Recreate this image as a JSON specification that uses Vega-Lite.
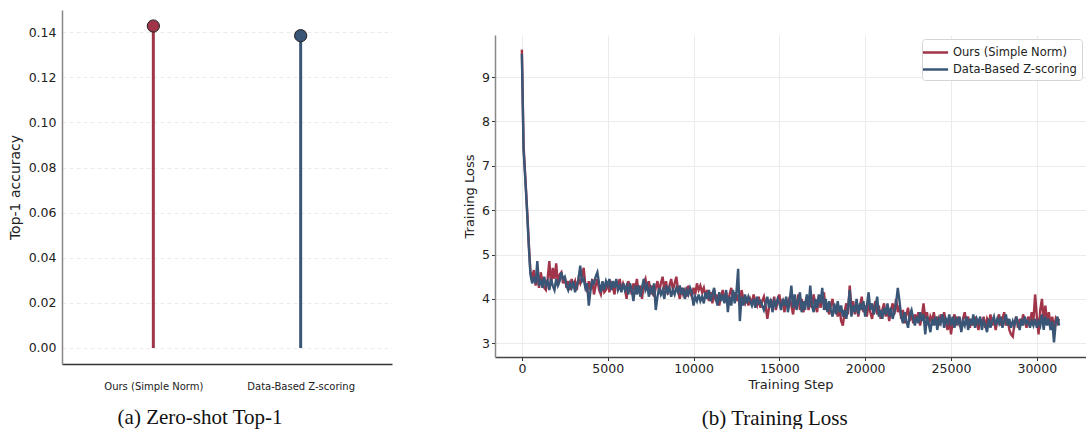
{
"$schema": "https://vega.github.io/schema/vega-lite/v6.json",
"padding": {"left": 8, "top": 10, "right": 0, "bottom": 0},
"background": "white",
"config": {"font": "DejaVu Sans", "view": {"stroke": null}, "axis": {"labelFont": "DejaVu Sans", "titleFont": "DejaVu Sans", "titleFontWeight": "normal", "labelColor": "#222", "titleColor": "#222"}},
"spacing": 71,
"resolve": {"scale": {"color": "independent"}, "legend": {"color": "independent"}},
"hconcat": [
{
"width": 330, "height": 354,
"data": {"values": [{"method": "Ours (Simple Norm)", "acc": 0.1428}, {"method": "Data-Based Z-scoring", "acc": 0.1385}]},
"title": {"text": "(a) Zero-shot Top-1", "orient": "bottom", "anchor": "middle", "frame": "bounds", "font": "Liberation Serif", "fontSize": 21, "fontWeight": "normal", "color": "#111", "offset": 16},
"encoding": {
"x": {"field": "method", "type": "nominal", "sort": null, "scale": {"type": "point", "padding": 0.62}, "axis": {"title": null, "labelAngle": 0, "labelFontSize": 10, "ticks": false, "tickSize": 0, "labelPadding": 17, "domainColor": "#333", "domainWidth": 1.5, "grid": false}},
"y": {"field": "acc", "type": "quantitative", "scale": {"domain": [-0.00714, 0.1499], "nice": false, "zero": false}, "axis": {"title": "Top-1 accuracy", "titleFontSize": 14, "titlePadding": 6, "values": [0, 0.02, 0.04, 0.06, 0.08, 0.1, 0.12, 0.14], "format": ".2f", "labelFontSize": 12.5, "ticks": false, "tickSize": 0, "labelPadding": 6, "domainColor": "#888", "domainWidth": 1.5, "gridColor": "#e6e6e6", "gridDash": [4, 3], "gridWidth": 0.8}},
"color": {"field": "method", "type": "nominal", "sort": null, "scale": {"domain": ["Ours (Simple Norm)", "Data-Based Z-scoring"], "range": ["#A0354A", "#3A5677"]}, "legend": null}
},
"layer": [
{"mark": {"type": "rule", "strokeWidth": 3}, "encoding": {"y2": {"datum": 0}}},
{"mark": {"type": "point", "filled": true, "size": 150, "stroke": "#222", "strokeWidth": 1, "opacity": 1}}
]
},
{
"spacing": 10,
"resolve": {"scale": {"color": "independent"}, "legend": {"color": "independent"}},
"vconcat": [
{"width": 591, "height": 15, "data": {"values": []}, "mark": {"type": "text"}, "encoding": {}},
{
"width": 591, "height": 322,
"title": {"text": "(b) Training Loss", "orient": "bottom", "anchor": "middle", "frame": "bounds", "font": "Liberation Serif", "fontSize": 21, "fontWeight": "normal", "color": "#111", "offset": 17},
"data": {"values": [
{"step":0,"a":9.62,"b":9.52},{"step":100,"a":7.45,"b":7.35},{"step":200,"a":6.75,"b":6.7},{"step":300,"a":6.05,"b":6.0},{"step":400,"a":5.3,"b":5.2},
{"step":500,"a":4.6,"b":4.55},{"step":600,"a":4.5,"b":4.35},{"step":700,"a":4.65,"b":4.5},{"step":800,"a":4.3,"b":4.35},{"step":900,"a":4.55,"b":4.85},
{"step":1000,"a":4.25,"b":4.3},{"step":1100,"a":4.6,"b":4.45},{"step":1200,"a":4.4,"b":4.25},{"step":1300,"a":4.25,"b":4.5},{"step":1400,"a":4.2,"b":4.3},
{"step":1500,"a":4.45,"b":4.4},{"step":1600,"a":4.85,"b":4.2},{"step":1700,"a":4.3,"b":4.45},{"step":1800,"a":4.7,"b":4.3},{"step":1900,"a":4.45,"b":4.2},
{"step":2000,"a":4.8,"b":4.45},{"step":2100,"a":4.3,"b":4.3},{"step":2200,"a":4.55,"b":4.4},{"step":2300,"a":4.6,"b":4.6},{"step":2400,"a":4.35,"b":4.45},
{"step":2500,"a":4.5,"b":4.5},{"step":2600,"a":4.25,"b":4.3},{"step":2700,"a":4.4,"b":4.2},{"step":2800,"a":4.2,"b":4.35},{"step":2900,"a":4.45,"b":4.25},
{"step":3000,"a":4.3,"b":4.4},{"step":3100,"a":4.4,"b":4.15},{"step":3200,"a":4.2,"b":4.3},{"step":3300,"a":4.45,"b":4.45},{"step":3400,"a":4.35,"b":4.75},
{"step":3500,"a":4.5,"b":4.4},{"step":3600,"a":4.7,"b":4.45},{"step":3700,"a":4.3,"b":4.25},{"step":3800,"a":4.15,"b":4.35},{"step":3900,"a":4.4,"b":3.85},
{"step":4000,"a":4.2,"b":4.2},{"step":4100,"a":4.45,"b":4.4},{"step":4200,"a":4.1,"b":4.35},{"step":4300,"a":4.3,"b":4.5},{"step":4400,"a":4.45,"b":4.6},
{"step":4500,"a":4.2,"b":4.35},{"step":4600,"a":4.1,"b":4.15},{"step":4700,"a":4.35,"b":4.4},{"step":4800,"a":4.15,"b":4.2},{"step":4900,"a":4.2,"b":4.4},
{"step":5000,"a":4.4,"b":4.3},{"step":5100,"a":4.15,"b":4.45},{"step":5200,"a":4.35,"b":4.2},{"step":5300,"a":4.25,"b":4.4},{"step":5400,"a":4.1,"b":4.25},
{"step":5500,"a":4.4,"b":4.45},{"step":5600,"a":4.3,"b":4.2},{"step":5700,"a":4.45,"b":4.3},{"step":5800,"a":4.2,"b":4.15},{"step":5900,"a":4.35,"b":4.35},
{"step":6000,"a":4.25,"b":4.2},{"step":6100,"a":4.0,"b":4.3},{"step":6200,"a":4.4,"b":4.1},{"step":6300,"a":4.3,"b":4.35},{"step":6400,"a":4.1,"b":4.2},
{"step":6500,"a":4.35,"b":3.95},{"step":6600,"a":4.2,"b":4.3},{"step":6700,"a":4.45,"b":4.1},{"step":6800,"a":4.15,"b":4.3},{"step":6900,"a":4.3,"b":4.05},
{"step":7000,"a":4.0,"b":4.25},{"step":7100,"a":4.35,"b":4.45},{"step":7200,"a":4.45,"b":4.2},{"step":7300,"a":4.2,"b":4.3},{"step":7400,"a":4.4,"b":4.05},
{"step":7500,"a":4.1,"b":4.25},{"step":7600,"a":4.3,"b":4.15},{"step":7700,"a":4.05,"b":4.35},{"step":7800,"a":4.25,"b":3.75},{"step":7900,"a":4.4,"b":4.05},
{"step":8000,"a":4.15,"b":4.25},{"step":8100,"a":4.35,"b":4.1},{"step":8200,"a":4.5,"b":4.2},{"step":8300,"a":4.2,"b":4.0},{"step":8400,"a":4.4,"b":4.3},
{"step":8500,"a":4.1,"b":4.15},{"step":8600,"a":4.3,"b":4.25},{"step":8700,"a":4.45,"b":4.05},{"step":8800,"a":4.2,"b":4.2},{"step":8900,"a":4.35,"b":4.1},
{"step":9000,"a":4.5,"b":4.25},{"step":9100,"a":4.2,"b":4.15},{"step":9200,"a":4.0,"b":4.3},{"step":9300,"a":4.25,"b":4.1},{"step":9400,"a":4.1,"b":4.25},
{"step":9500,"a":4.2,"b":4.0},{"step":9600,"a":4.05,"b":4.2},{"step":9700,"a":4.3,"b":4.1},{"step":9800,"a":4.15,"b":4.25},{"step":9900,"a":4.05,"b":4.15},
{"step":10000,"a":4.25,"b":3.85},{"step":10100,"a":4.1,"b":4.05},{"step":10200,"a":4.35,"b":3.95},{"step":10300,"a":4.2,"b":4.1},{"step":10400,"a":4.3,"b":3.95},
{"step":10500,"a":4.15,"b":4.05},{"step":10600,"a":4.25,"b":3.9},{"step":10700,"a":4.05,"b":4.15},{"step":10800,"a":4.2,"b":4.0},{"step":10900,"a":3.95,"b":4.2},
{"step":11000,"a":4.15,"b":3.95},{"step":11100,"a":3.9,"b":4.1},{"step":11200,"a":4.2,"b":4.25},{"step":11300,"a":3.95,"b":4.0},{"step":11400,"a":4.1,"b":3.85},
{"step":11500,"a":3.85,"b":4.15},{"step":11600,"a":4.05,"b":3.95},{"step":11700,"a":4.2,"b":4.1},{"step":11800,"a":3.95,"b":3.9},{"step":11900,"a":4.15,"b":4.2},
{"step":12000,"a":3.9,"b":3.7},{"step":12100,"a":4.1,"b":4.05},{"step":12200,"a":4.25,"b":3.85},{"step":12300,"a":4.0,"b":4.2},{"step":12400,"a":4.15,"b":3.9},
{"step":12500,"a":3.95,"b":4.15},{"step":12600,"a":4.1,"b":4.68},{"step":12700,"a":3.85,"b":3.5},{"step":12800,"a":4.2,"b":4.05},{"step":12900,"a":4.0,"b":3.85},
{"step":13000,"a":3.9,"b":4.1},{"step":13100,"a":4.05,"b":3.9},{"step":13200,"a":3.85,"b":4.05},{"step":13300,"a":4.0,"b":3.95},{"step":13400,"a":3.9,"b":3.85},
{"step":13500,"a":4.1,"b":4.0},{"step":13600,"a":3.95,"b":3.8},{"step":13700,"a":3.85,"b":4.05},{"step":13800,"a":4.05,"b":3.9},{"step":13900,"a":3.8,"b":3.95},
{"step":14000,"a":3.95,"b":3.85},{"step":14100,"a":4.05,"b":3.75},{"step":14200,"a":3.85,"b":3.9},{"step":14300,"a":3.55,"b":4.05},{"step":14400,"a":3.8,"b":3.8},
{"step":14500,"a":3.95,"b":4.0},{"step":14600,"a":3.85,"b":3.7},{"step":14700,"a":4.05,"b":3.95},{"step":14800,"a":3.75,"b":3.85},{"step":14900,"a":3.95,"b":4.0},
{"step":15000,"a":4.1,"b":3.9},{"step":15100,"a":3.85,"b":3.75},{"step":15200,"a":3.95,"b":4.0},{"step":15300,"a":3.7,"b":3.85},{"step":15400,"a":4.0,"b":4.05},
{"step":15500,"a":3.8,"b":3.7},{"step":15600,"a":4.05,"b":3.95},{"step":15700,"a":3.85,"b":4.3},{"step":15800,"a":3.65,"b":3.8},{"step":15900,"a":3.95,"b":4.1},
{"step":16000,"a":3.8,"b":3.75},{"step":16100,"a":4.1,"b":3.95},{"step":16200,"a":3.75,"b":4.15},{"step":16300,"a":4.0,"b":3.7},{"step":16400,"a":3.7,"b":3.95},
{"step":16500,"a":3.9,"b":3.75},{"step":16600,"a":4.05,"b":4.1},{"step":16700,"a":3.75,"b":3.8},{"step":16800,"a":3.95,"b":4.3},{"step":16900,"a":3.8,"b":3.85},
{"step":17000,"a":4.1,"b":3.7},{"step":17100,"a":3.85,"b":4.0},{"step":17200,"a":3.7,"b":3.8},{"step":17300,"a":4.05,"b":4.1},{"step":17400,"a":3.8,"b":3.9},
{"step":17500,"a":3.95,"b":4.25},{"step":17600,"a":4.15,"b":3.75},{"step":17700,"a":3.75,"b":4.0},{"step":17800,"a":3.9,"b":3.7},{"step":17900,"a":3.65,"b":3.95},
{"step":18000,"a":3.85,"b":3.75},{"step":18100,"a":4.0,"b":3.6},{"step":18200,"a":3.7,"b":3.9},{"step":18300,"a":3.85,"b":3.65},{"step":18400,"a":3.6,"b":3.95},
{"step":18500,"a":3.8,"b":3.7},{"step":18600,"a":3.5,"b":3.85},{"step":18700,"a":3.4,"b":3.6},{"step":18800,"a":3.7,"b":3.75},{"step":18900,"a":3.9,"b":3.55},
{"step":19000,"a":3.65,"b":3.8},{"step":19100,"a":4.3,"b":4.2},{"step":19200,"a":3.8,"b":3.6},{"step":19300,"a":3.95,"b":3.85},{"step":19400,"a":3.65,"b":3.7},
{"step":19500,"a":3.9,"b":4.0},{"step":19600,"a":3.6,"b":3.65},{"step":19700,"a":3.85,"b":3.9},{"step":19800,"a":4.05,"b":3.75},{"step":19900,"a":3.7,"b":3.95},
{"step":20000,"a":3.85,"b":3.6},{"step":20100,"a":3.6,"b":3.85},{"step":20200,"a":3.9,"b":4.15},{"step":20300,"a":3.7,"b":3.75},{"step":20400,"a":3.55,"b":3.9},
{"step":20500,"a":3.8,"b":3.65},{"step":20600,"a":3.95,"b":3.8},{"step":20700,"a":3.65,"b":4.05},{"step":20800,"a":3.85,"b":3.6},{"step":20900,"a":3.55,"b":3.75},
{"step":21000,"a":3.75,"b":3.55},{"step":21100,"a":3.9,"b":3.8},{"step":21200,"a":3.6,"b":3.65},{"step":21300,"a":3.8,"b":3.9},{"step":21400,"a":3.5,"b":3.6},
{"step":21500,"a":3.75,"b":3.8},{"step":21600,"a":3.9,"b":3.55},{"step":21700,"a":3.65,"b":3.7},{"step":21800,"a":4.0,"b":3.9},{"step":21900,"a":3.7,"b":4.25},
{"step":22000,"a":3.85,"b":3.95},{"step":22100,"a":3.55,"b":3.6},{"step":22200,"a":3.75,"b":3.45},{"step":22300,"a":3.45,"b":3.7},{"step":22400,"a":3.65,"b":3.5},
{"step":22500,"a":3.8,"b":3.35},{"step":22600,"a":3.5,"b":3.65},{"step":22700,"a":3.7,"b":3.75},{"step":22800,"a":3.45,"b":3.55},{"step":22900,"a":3.65,"b":3.4},
{"step":23000,"a":3.5,"b":3.6},{"step":23100,"a":3.7,"b":3.45},{"step":23200,"a":3.4,"b":3.7},{"step":23300,"a":3.6,"b":3.5},{"step":23400,"a":3.9,"b":3.65},
{"step":23500,"a":3.55,"b":3.2},{"step":23600,"a":3.7,"b":3.6},{"step":23700,"a":3.4,"b":3.45},{"step":23800,"a":3.6,"b":3.25},{"step":23900,"a":3.5,"b":3.55},
{"step":24000,"a":3.7,"b":3.4},{"step":24100,"a":3.45,"b":3.6},{"step":24200,"a":3.6,"b":3.3},{"step":24300,"a":3.4,"b":3.55},{"step":24400,"a":3.65,"b":3.45},
{"step":24500,"a":3.5,"b":3.65},{"step":24600,"a":3.7,"b":3.35},{"step":24700,"a":3.45,"b":3.55},{"step":24800,"a":3.3,"b":3.45},{"step":24900,"a":3.55,"b":3.65},
{"step":25000,"a":3.2,"b":3.4},{"step":25100,"a":3.5,"b":3.6},{"step":25200,"a":3.65,"b":3.35},{"step":25300,"a":3.4,"b":3.55},{"step":25400,"a":3.6,"b":3.45},
{"step":25500,"a":3.45,"b":3.6},{"step":25600,"a":3.3,"b":3.25},{"step":25700,"a":3.55,"b":3.5},{"step":25800,"a":3.7,"b":3.4},{"step":25900,"a":3.45,"b":3.6},
{"step":26000,"a":3.6,"b":3.3},{"step":26100,"a":3.35,"b":3.55},{"step":26200,"a":3.55,"b":3.4},{"step":26300,"a":3.4,"b":3.65},{"step":26400,"a":3.6,"b":3.35},
{"step":26500,"a":3.45,"b":3.55},{"step":26600,"a":3.3,"b":3.45},{"step":26700,"a":3.55,"b":3.6},{"step":26800,"a":3.4,"b":3.3},{"step":26900,"a":3.6,"b":3.5},
{"step":27000,"a":3.35,"b":3.4},{"step":27100,"a":3.55,"b":3.25},{"step":27200,"a":3.45,"b":3.55},{"step":27300,"a":3.65,"b":3.35},{"step":27400,"a":3.4,"b":3.5},
{"step":27500,"a":3.55,"b":3.6},{"step":27600,"a":3.3,"b":3.4},{"step":27700,"a":3.5,"b":3.55},{"step":27800,"a":3.65,"b":3.45},{"step":27900,"a":3.4,"b":3.6},
{"step":28000,"a":3.55,"b":3.35},{"step":28100,"a":3.7,"b":3.5},{"step":28200,"a":3.4,"b":3.65},{"step":28300,"a":3.55,"b":3.4},{"step":28400,"a":3.3,"b":3.55},
{"step":28500,"a":3.2,"b":3.35},{"step":28600,"a":3.15,"b":3.5},{"step":28700,"a":3.45,"b":3.4},{"step":28800,"a":3.6,"b":3.6},{"step":28900,"a":3.35,"b":3.45},
{"step":29000,"a":3.55,"b":3.3},{"step":29100,"a":3.4,"b":3.55},{"step":29200,"a":3.65,"b":3.4},{"step":29300,"a":3.5,"b":3.6},{"step":29400,"a":3.35,"b":3.45},
{"step":29500,"a":3.6,"b":3.5},{"step":29600,"a":3.45,"b":3.35},{"step":29700,"a":3.7,"b":3.5},{"step":29800,"a":3.5,"b":3.4},{"step":29900,"a":4.1,"b":3.55},
{"step":30000,"a":3.6,"b":3.35},{"step":30100,"a":3.2,"b":3.5},{"step":30200,"a":3.75,"b":3.4},{"step":30300,"a":4.0,"b":3.65},{"step":30400,"a":3.5,"b":3.3},
{"step":30500,"a":3.85,"b":3.6},{"step":30600,"a":3.45,"b":3.4},{"step":30700,"a":3.7,"b":3.55},{"step":30800,"a":3.4,"b":3.3},{"step":30900,"a":3.6,"b":3.5},
{"step":31000,"a":3.35,"b":3.02},{"step":31100,"a":3.55,"b":3.45},{"step":31200,"a":3.45,"b":3.6},{"step":31300,"a":3.55,"b":3.4}
]},
"encoding": {
"x": {"field": "step", "type": "quantitative", "scale": {"domain": [-1565, 32865], "nice": false, "zero": false}, "axis": {"title": "Training Step", "titleFontSize": 13, "titlePadding": 3, "values": [0, 5000, 10000, 15000, 20000, 25000, 30000], "format": "d", "labelFontSize": 12.5, "tickSize": 3.5, "tickColor": "#333", "labelPadding": 2, "domainColor": "#444", "domainWidth": 1.5, "gridColor": "#ebebeb", "gridWidth": 1}}
},
"layer": [
{"mark": {"type": "line", "strokeWidth": 2.4}, "encoding": {
"y": {"field": "a", "type": "quantitative", "scale": {"domain": [2.69, 9.95], "nice": false, "zero": false}, "axis": {"title": "Training Loss", "titleFontSize": 13, "titlePadding": 5, "values": [3, 4, 5, 6, 7, 8, 9], "labelFontSize": 12.5, "tickSize": 3.5, "tickColor": "#333", "labelPadding": 2, "domainColor": "#888", "domainWidth": 1.5, "gridColor": "#ebebeb", "gridWidth": 1}},
"color": {"datum": "Ours (Simple Norm)", "type": "nominal", "scale": {"domain": ["Ours (Simple Norm)", "Data-Based Z-scoring"], "range": ["#A0354A", "#3A5677"]}, "legend": {"title": null, "orient": "top-right", "offset": 4, "labelFontSize": 11.5, "labelFont": "DejaVu Sans", "labelColor": "#222", "symbolType": "M-1.8,0H1.8", "symbolSize": 196, "symbolStrokeWidth": 2.5, "labelOffset": 9, "rowPadding": 3, "padding": 5, "fillColor": "white", "strokeColor": "#d5d5d5", "cornerRadius": 3}}
}},
{"mark": {"type": "line", "strokeWidth": 2.4}, "encoding": {
"y": {"field": "b", "type": "quantitative", "scale": {"domain": [2.69, 9.95], "nice": false, "zero": false}, "axis": {"title": "Training Loss", "titleFontSize": 13, "titlePadding": 5, "values": [3, 4, 5, 6, 7, 8, 9], "labelFontSize": 12.5, "tickSize": 3.5, "tickColor": "#333", "labelPadding": 2, "domainColor": "#888", "domainWidth": 1.5, "gridColor": "#ebebeb", "gridWidth": 1}},
"color": {"datum": "Data-Based Z-scoring", "type": "nominal"}
}}
]
}
]
}
]
}
